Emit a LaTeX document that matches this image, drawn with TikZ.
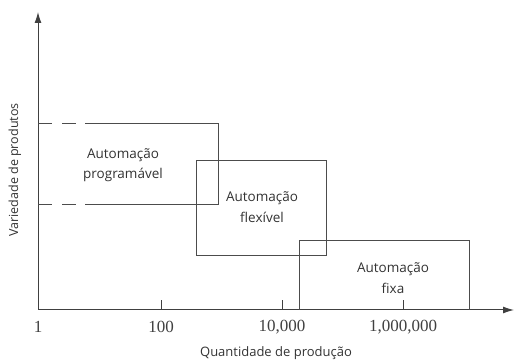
\documentclass[tikz,border=0pt]{standalone}
\usepackage{fontspec}
\setmainfont{Open Sans}
\newfontfamily\numfont{Liberation Serif}
\usetikzlibrary{shapes,arrows.meta}
\usetikzlibrary{positioning}
\tikzset{auto,>={Latex[length=11pt,width=7pt]}, x=1pt, y=1pt, font=\fontsize{13.5}{20.5}\selectfont}
\tikzstyle{zone} = [draw=black!70, line width=0.9pt]
\tikzstyle{axis} = [draw=black!75, line width=1pt]
\tikzstyle{label} = [align=center, text=black!80]
\tikzstyle{tick} = [font=\numfont\fontsize{17}{17}\selectfont, text=black!75]
\begin{document}
\begin{tikzpicture}
    \useasboundingbox (0,0) rectangle (514,363);
    \coordinate (origin) at (38,53);
    \coordinate (ytop) at (38,351);
    \coordinate (xend) at (514,53);

    % axes
    \draw [axis,->] (origin) -- (ytop);
    \draw [axis,->] (origin) -- (xend);
    \foreach \x in {161,282,403}
        \draw [axis] (\x,53) -- (\x,63);

    % zones
    \draw [zone, dash pattern=on 14pt off 10pt] (38,240) -- (85,240);
    \draw [zone, dash pattern=on 14pt off 10pt] (38,159) -- (85,159);
    \draw [zone] (85,240) -- (218,240) -- (218,159) -- (85,159);
    \draw [zone] (196,108) rectangle (326,203);
    \draw [zone] (299,53) -- (299,123) -- (469,123) -- (469,53);

    \node [label] (prog) at (123,198) {Automação\\programável};
    \node [label] (flex) at (262,156) {Automação\\flexível};
    \node [label] (fixa) at (393,85) {Automação\\fixa};

    \node [tick] (t1) at (38,36) {1};
    \node [tick] (t2) at (161,36) {100};
    \node [tick] (t3) at (282,36) {10,000};
    \node [tick] (t4) at (403,36) {1,000,000};

    \node [label, font=\fontsize{13}{13}\selectfont] (xlab) at (276,10) {Quantidade de produção};
    \node [label, rotate=90, font=\fontsize{12.5}{13}\selectfont] (ylab) at (15,193) {Variedade de produtos};
\end{tikzpicture}
\end{document}
